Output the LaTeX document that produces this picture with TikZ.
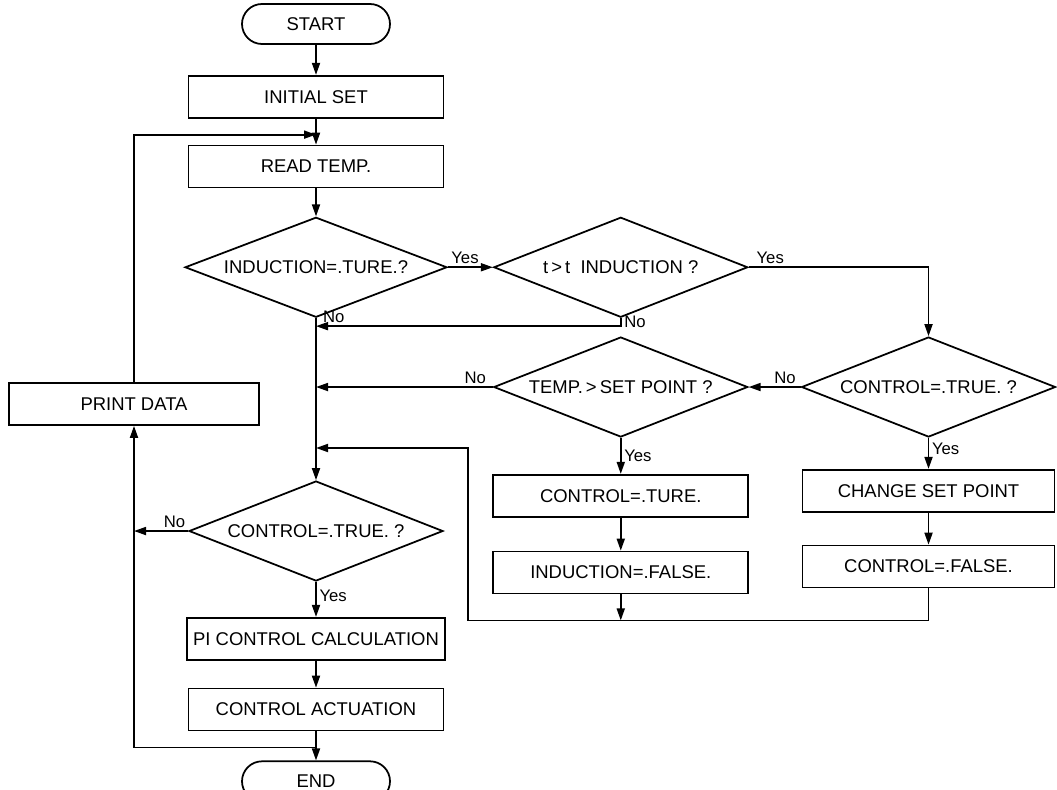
\documentclass[tikz,border=0pt]{standalone}
\usepackage{fontspec}
\setmainfont{Liberation Sans}
\usetikzlibrary{arrows.meta,positioning,shapes.geometric}

\begin{document}
\begin{tikzpicture}[
  node distance=6mm and 9mm,
  term/.style={draw,rounded corners=4mm,minimum width=29.6mm,minimum height=8mm,font=\fontsize{10.5}{12}\selectfont},
  proc/.style={draw,minimum width=51mm,minimum height=8.4mm,font=\fontsize{10.5}{12}\selectfont},
  decide/.style={draw,diamond,aspect=2.6,inner sep=0pt,minimum width=50.8mm,minimum height=20mm,font=\fontsize{10.5}{12}\selectfont},
  lbl/.style={font=\fontsize{9.5}{10}\selectfont,inner sep=1.5pt},
  flow/.style={-{Triangle[length=2.4mm,width=1.6mm]}},
  line width=1pt]
  \useasboundingbox (0,0) rectangle (21.14,-15.8);
  % main column
  \node[term] (start) at (6.32,-0.48) {START};
  \node[proc,below=of start] (init) {INITIAL SET};
  \node[proc,below=5.2mm of init] (read) {READ TEMP.};
  \node[decide,below=5.6mm of read,minimum width=52.4mm] (ind) {INDUCTION=.TURE.?};
  \node[decide,right=of ind] (tind) {t\,>\,t\ \ INDUCTION ?};
  \node[decide,below=3.6mm of tind] (temp) {TEMP.\,>\,SET POINT ?};
  \node[decide,right=10.4mm of temp] (ctl) {CONTROL=.TRUE. ?};
  \node[proc,below=7.2mm of temp] (ctrue) {CONTROL=.TURE.};
  \node[proc,below=6.6mm of ctrue] (ifalse) {INDUCTION=.FALSE.};
  \node[proc,below=6.2mm of ctl,minimum width=50.4mm] (chsp) {CHANGE SET POINT};
  \node[proc,below=6.4mm of chsp,minimum width=50.4mm] (cfalse) {CONTROL=.FALSE.};
  \node[decide,below=32.4mm of ind] (ctl2) {CONTROL=.TRUE. ?};
  \node[proc,below=7mm of ctl2] (pi) {PI CONTROL CALCULATION};
  \node[proc,below=5.4mm of pi] (act) {CONTROL ACTUATION};
  \node[term,below=5.8mm of act] (stop) {END};
  \node[proc,minimum width=50mm] (print) at (2.68,-8.08) {PRINT DATA};
  \draw[flow] (start) -- (init);
  \draw[flow] (init) -- (read);
  \draw[flow] (read) -- (ind);
  \draw[flow] (ind) -- node[lbl,above,pos=0.38]{Yes} (tind);
  \draw[flow] (tind.east) -| node[lbl,above,pos=0.06]{Yes} (ctl.north);
  \draw[flow] (tind.south) |- node[lbl,right,pos=0.25]{No} ([yshift=-1.6mm]ind.south);
  \draw[flow] (ind.south) -- node[lbl,pos=0.05,anchor=south west,xshift=2pt]{No} (ctl2.north);
  \draw[flow] (ctl.west) -- node[lbl,above,pos=0.3]{No} (temp.east);
  \draw[flow] (temp.west) -- node[lbl,above,pos=0.1]{No} (temp.west -| ind.south);
  \draw[flow] (temp.south) -- node[lbl,right]{Yes} (ctrue);
  \draw[flow] (ctrue) -- (ifalse);
  \draw[flow] (ctl.south) -- node[lbl,right,pos=0.35]{Yes} (chsp);
  \draw[flow] (chsp) -- (cfalse);
  % way back into the main column
  \coordinate (ret) at ([yshift=-6.4mm]cfalse.south);
  \coordinate (back) at (9.36,-8.96);
  \draw[flow] (ifalse) -- (ifalse.south |- ret);
  \draw[flow] (cfalse.south) -- (ret) -| (back) -- (back -| ind.south);
  \draw[flow] (ctl2.west) -- node[lbl,above,pos=0.25]{No} (ctl2.west -| print.south);
  \draw[flow] (ctl2.south) -- node[lbl,right,pos=0.4]{Yes} (pi);
  \draw[flow] (pi) -- (act);
  \draw[flow] (act) -- (stop);
  % loop over print data
  \coordinate (fb) at ([yshift=-3.2mm]act.south);
  \draw[flow] (fb) -| (print.south);
  \draw[flow] (print.north) |- ([yshift=-3.2mm]init.south);
\end{tikzpicture}
\end{document}
